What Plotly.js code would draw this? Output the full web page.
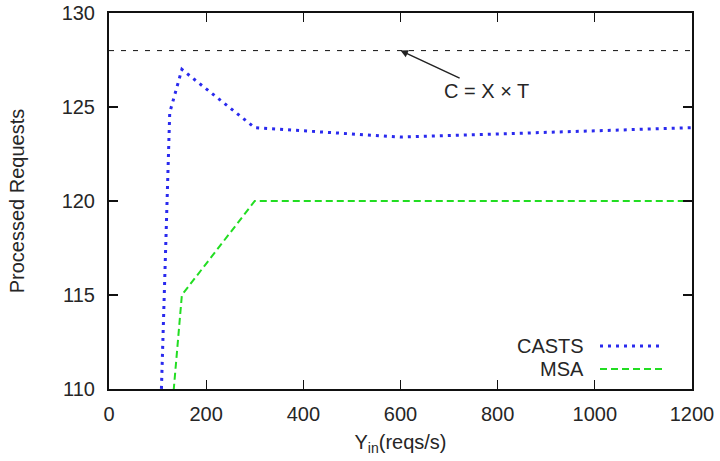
<!DOCTYPE html>
<html><head><meta charset="utf-8">
<script src="https://cdn.plot.ly/plotly-3.0.1.min.js"></script>
<style>html,body{margin:0;padding:0;background:#fff}</style>
</head><body>
<div id="chart" style="width:720px;height:461px"></div>
<script>
const castsX = [100, 125, 150, 300, 600, 1200];
const castsY = [103.2, 124.7, 127.0, 123.9, 123.4, 123.9];
const msaX = [100, 150, 300, 1200];
const msaY = [100.0, 115.0, 120.0, 120.0];
const capX = [0, 1200];
const capY = [128, 128];
const xTicks = [0, 200, 400, 600, 800, 1000, 1200];
const yTicks = [110, 115, 120, 125, 130];
const seriesNames = ['CASTS', 'MSA'];
const seriesColors = ['#2a2aee', '#22dd22'];

const font = {family: 'Liberation Sans, Arial, sans-serif', size: 20, color: '#262626'};
const traces = [
  {x: capX, y: capY, mode: 'lines', line: {color: '#111', width: 1, dash: '5px,7px'}, showlegend: false, hoverinfo: 'skip'},
  {x: castsX, y: castsY, mode: 'lines', name: seriesNames[0], line: {color: seriesColors[0], width: 3, dash: '3px,5px'}},
  {x: msaX, y: msaY, mode: 'lines', name: seriesNames[1], line: {color: seriesColors[1], width: 2, dash: '7px,4px'}}
];
const axisCommon = {showgrid: false, zeroline: false, showline: true, linecolor: '#111', linewidth: 2,
  mirror: 'allticks', ticks: 'inside', ticklen: 9, tickwidth: 1.2, tickcolor: '#111', tickfont: font};
const layout = {
  width: 720, height: 461,
  margin: {l: 109, r: 28, t: 13, b: 72},
  paper_bgcolor: '#fff', plot_bgcolor: '#fff',
  showlegend: false,
  font: font,
  xaxis: Object.assign({}, axisCommon, {range: [0, 1200], tickvals: xTicks, ticktext: xTicks.map(String),
    ticklabelstandoff: 6,
    title: {text: 'Y<sub>in</sub>(reqs/s)', font: font, standoff: 11}}),
  yaxis: Object.assign({}, axisCommon, {range: [110, 130], tickvals: yTicks, ticktext: yTicks.map(String),
    ticklabelstandoff: 8,
    title: {text: 'Processed Requests', font: font, standoff: 32}}),
  annotations: [
    {x: 600, y: 128, xref: 'x', yref: 'y', text: 'C = X × T', showarrow: true, arrowhead: 2, arrowsize: 1,
      arrowwidth: 1.5, arrowcolor: '#222', ax: 86, ay: 40, font: font},
    {x: 586, y: 346, xref: 'paper', yref: 'paper', text: seriesNames[0], showarrow: false, xanchor: 'right', yanchor: 'middle', font: font},
    {x: 586, y: 369, xref: 'paper', yref: 'paper', text: seriesNames[1], showarrow: false, xanchor: 'right', yanchor: 'middle', font: font}
  ],
  shapes: [
    {type: 'line', xref: 'paper', yref: 'paper', x0: 600, x1: 661, y0: 346, y1: 346, line: {color: seriesColors[0], width: 3, dash: '3px,5px'}},
    {type: 'line', xref: 'paper', yref: 'paper', x0: 600, x1: 665, y0: 369, y1: 369, line: {color: seriesColors[1], width: 2, dash: '7px,4px'}}
  ]
};
// convert legend pixel positions to paper coords
const pw = 720 - layout.margin.l - layout.margin.r, ph = 461 - layout.margin.t - layout.margin.b;
const px = v => (v - layout.margin.l) / pw;
const py = v => 1 - (v - layout.margin.t) / ph;
layout.annotations.slice(1).forEach(a => { a.x = px(a.x); a.y = py(a.y); });
layout.shapes.forEach(s => { s.x0 = px(s.x0); s.x1 = px(s.x1); s.y0 = py(s.y0); s.y1 = py(s.y1); });
Plotly.newPlot('chart', traces, layout, {displayModeBar: false, staticPlot: true});
</script>
</body></html>
